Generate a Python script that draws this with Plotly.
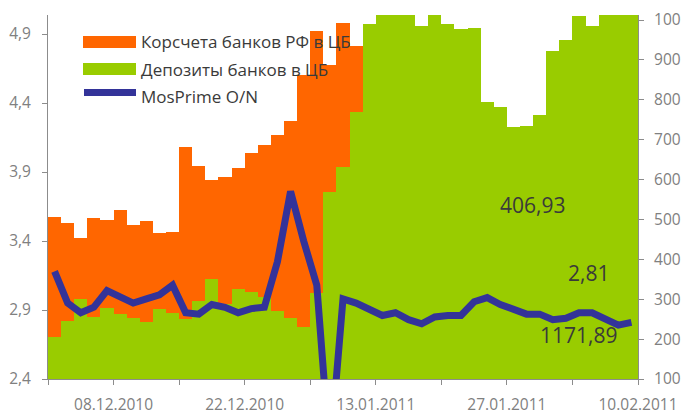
import plotly.graph_objects as go

# ---- data ----
dates = [
    "02.12.2010", "03.12.2010", "06.12.2010", "07.12.2010", "08.12.2010",
    "09.12.2010", "10.12.2010", "13.12.2010", "14.12.2010", "15.12.2010",
    "16.12.2010", "17.12.2010", "20.12.2010", "21.12.2010", "22.12.2010",
    "23.12.2010", "24.12.2010", "27.12.2010", "28.12.2010", "29.12.2010",
    "30.12.2010", "31.12.2010", "11.01.2011", "12.01.2011", "13.01.2011",
    "14.01.2011", "17.01.2011", "18.01.2011", "19.01.2011", "20.01.2011",
    "21.01.2011", "24.01.2011", "25.01.2011", "26.01.2011", "27.01.2011",
    "28.01.2011", "31.01.2011", "01.02.2011", "02.02.2011", "03.02.2011",
    "04.02.2011", "07.02.2011", "08.02.2011", "09.02.2011", "10.02.2011",
]
korschet = [
    507, 492, 454, 504, 499, 524, 487, 496, 467, 469,
    682, 635, 599, 607, 630, 666, 687, 712, 747, 862,
    972, 887, 992, 935, 880, 820, 760, 700, 650, 620,
    600, 580, 560, 540, 520, 510, 500, 490, 470, 460,
    450, 440, 430, 420, 406.93,
]
deposits = [
    206, 246, 301, 256, 279, 264, 254, 244, 276, 266,
    250, 296, 351, 288, 326, 318, 306, 271, 252, 230,
    315, 569, 632, 769, 990, 1030, 1030, 1030, 986, 1030,
    990, 977, 980, 794, 782, 732, 734, 762, 922, 950,
    1010, 985, 1080, 1120, 1171.89,
]
mosprime = [
    3.18, 2.95, 2.88, 2.92, 3.04, 2.99, 2.95, 2.98, 3.01, 3.08,
    2.88, 2.87, 2.94, 2.92, 2.88, 2.91, 2.92, 3.25, 3.76, 3.40,
    3.08, 1.85, 2.98, 2.95, 2.90, 2.86, 2.88, 2.83, 2.80, 2.85,
    2.86, 2.86, 2.96, 2.99, 2.94, 2.91, 2.87, 2.87, 2.83, 2.84,
    2.88, 2.88, 2.83, 2.79, 2.81,
]
tick_labels = ["08.12.2010", "22.12.2010", "13.01.2011", "27.01.2011", "10.02.2011"]
left_ticks = [2.4, 2.9, 3.4, 3.9, 4.4, 4.9]
right_ticks = [100, 200, 300, 400, 500, 600, 700, 800, 900, 1000]
series_names = ["Корсчета банков РФ в ЦБ", "Депозиты банков в ЦБ", "MosPrime O/N"]
last_values = ["406,93", "2,81", "1171,89"]

ORANGE = "#FF6600"
GREEN = "#99CC00"
NAVY = "#333399"
AXIS = "#8C8C8C"
TICKFONT = dict(family="Open Sans", size=15.5, color="#808080")
TEXT = "#3A3A3A"

x = list(range(len(dates)))

# tick positions at category boundaries, labels on every other one
tickvals = [i - 0.5 for i in range(0, len(dates) + 1, 5)]
label_pos = {dates.index(t) + 0.5: t for t in tick_labels}
ticktext = [label_pos.get(v, "") for v in tickvals]

# page has an 8px body margin; the figure is sized so it fits the 689x415 window
OFF = 8
W, H = 689 - OFF, 415 - OFF
L, R, T, B = 48 - OFF, 51, 15 - OFF, 36
PW, PH = W - L - R, H - T - B


def px(xp):
    return (xp - OFF - L) / PW


def py(yp):
    return (H - B - (yp - OFF)) / PH


fig = go.Figure()
fig.add_bar(x=x, y=korschet, name=series_names[0], marker=dict(color=ORANGE, line=dict(width=0)),
            width=1, opacity=1, yaxis="y")
fig.add_bar(x=x, y=deposits, name=series_names[1], marker=dict(color=GREEN, line=dict(width=0)),
            width=1, opacity=1, yaxis="y")
fig.add_scatter(x=x, y=mosprime, name=series_names[2], mode="lines", yaxis="y2",
                line=dict(color=NAVY, width=7))

shapes = [
    dict(type="rect", xref="paper", yref="paper", x0=px(83), x1=px(136), y0=py(48), y1=py(36),
         fillcolor=ORANGE, line=dict(width=0)),
    dict(type="rect", xref="paper", yref="paper", x0=px(83), x1=px(136), y0=py(75), y1=py(63),
         fillcolor=GREEN, line=dict(width=0)),
    dict(type="line", xref="paper", yref="paper", x0=px(84), x1=px(136), y0=py(92.5), y1=py(92.5),
         line=dict(color=NAVY, width=7)),
]

annotations = []
for name, yp in zip(series_names, [42, 69, 96]):
    annotations.append(dict(xref="paper", yref="paper", x=px(139), y=py(yp), text=name,
                            showarrow=False, xanchor="left", yanchor="middle",
                            font=dict(family="Open Sans", size=17, color=TEXT)))
for txt, (xp, yp) in zip(last_values, [(532, 205), (588, 273), (578, 335)]):
    annotations.append(dict(xref="paper", yref="paper", x=px(xp), y=py(yp), text=txt,
                            showarrow=False, xanchor="center", yanchor="middle",
                            font=dict(family="Open Sans", size=21, color=TEXT)))

common = dict(ticks="outside", ticklen=5, tickcolor=AXIS, showline=True, linecolor=AXIS, linewidth=1,
              showgrid=False, zeroline=False, tickfont=TICKFONT, automargin=False)

fig.update_layout(
    width=W, height=H,
    margin=dict(l=L, r=R, t=T, b=B, pad=0),
    paper_bgcolor="white", plot_bgcolor="white",
    barmode="overlay", bargap=0,
    showlegend=False,
    separators=", ",
    shapes=shapes,
    annotations=annotations,
    xaxis=dict(range=[-0.5, len(dates) - 0.5], tickmode="array", tickvals=tickvals, ticktext=ticktext,
               ticklabelstandoff=6, **common),
    yaxis=dict(side="right", range=[100, 100 + PH / (359 / 900)], tickmode="array", tickvals=right_ticks,
               ticklabelstandoff=7, **common),
    yaxis2=dict(overlaying="y", side="left", range=[2.4, 2.4 + PH / 138.0], tickmode="array",
                tickvals=left_ticks, tickformat=".1f", ticklabelstandoff=8, **common),
)

fig.write_html("out.html")
